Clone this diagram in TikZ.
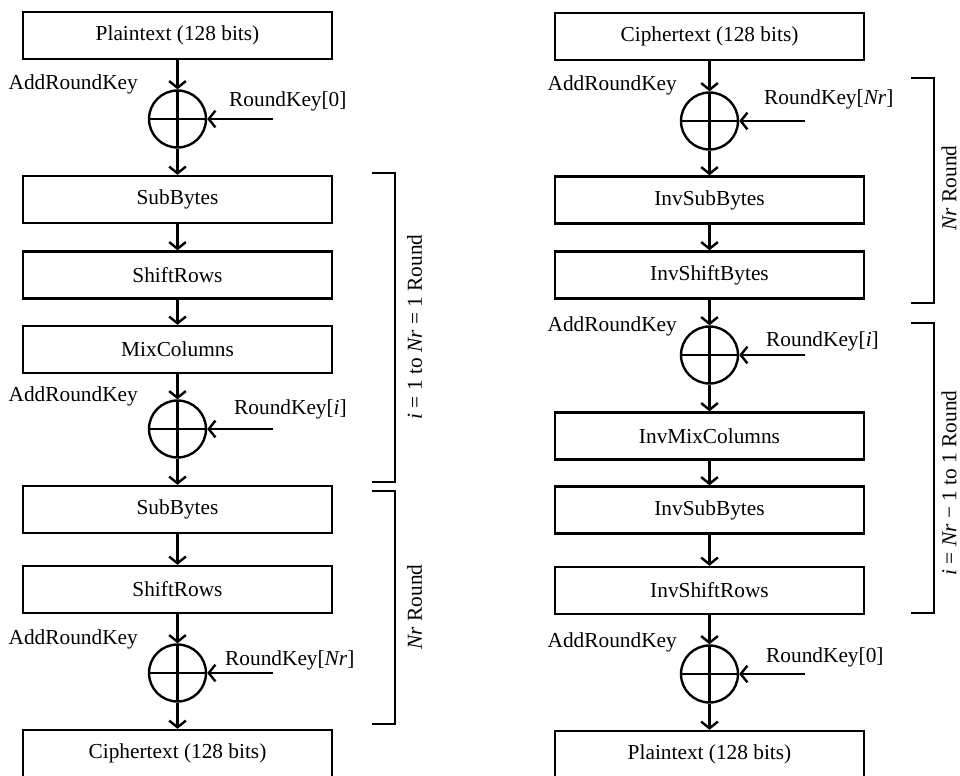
\documentclass[tikz,border=0pt]{standalone}
\usepackage{fontspec}
\setmainfont{Liberation Serif}
\usetikzlibrary{arrows.meta}
\begin{document}
\begin{tikzpicture}[x=0.75pt,y=-0.75pt, line width=1.8pt,
  box/.style={draw, minimum width=231.75pt, minimum height=35.25pt, inner sep=0pt, font=\fontsize{16}{19}\selectfont},
  xorc/.style={draw, circle, minimum size=42.75pt, inner sep=0pt,
    path picture={\draw[line width=1.8pt] (path picture bounding box.north) -- (path picture bounding box.south)
      (path picture bounding box.west) -- (path picture bounding box.east);}},
  arr/.style={-{Straight Barb[length=5pt,width=12.5pt]}},
  lbl/.style={font=\fontsize{16}{19}\selectfont, inner sep=0pt},
  rlbl/.style={lbl, rotate=90}]
\useasboundingbox (0,0) rectangle (960,775);

% ---------- left column (encryption) ----------
\node[box] (pt1) at (177.5,35.5) {Plaintext (128 bits)};
\node[xorc] (x1) at (177.5,119) {};
\node[box] (sb1) at (177.5,199.5) {SubBytes};
\node[box] (sr1) at (177.5,275) {ShiftRows};
\node[box] (mc1) at (177.5,349.5) {MixColumns};
\node[xorc] (x2) at (177.5,429) {};
\node[box] (sb2) at (177.5,509.5) {SubBytes};
\node[box] (sr2) at (177.5,589.5) {ShiftRows};
\node[xorc] (x3) at (177.5,673) {};
\node[box] (ct1) at (177.5,753.5) {Ciphertext (128 bits)};

\coordinate (k1) at (273,119);
\coordinate (k2) at (273,429);
\coordinate (k3) at (273,673);

\draw[arr] (pt1) -- (x1.north);
\draw[arr] (x1.south) -- (sb1.north);
\draw[arr] (sb1) -- (sr1);
\draw[arr] (sr1) -- (mc1);
\draw[arr] (mc1) -- (x2.north);
\draw[arr] (x2.south) -- (sb2.north);
\draw[arr] (sb2) -- (sr2);
\draw[arr] (sr2) -- (x3.north);
\draw[arr] (x3.south) -- (ct1.north);
\draw[arr] (k1) -- (x1.east);
\draw[arr] (k2) -- (x2.east);
\draw[arr] (k3) -- (x3.east);

\node[lbl, anchor=east] (a1) at (139,84) {AddRoundKey};
\node[lbl, anchor=west] (r1) at (228,101) {RoundKey[0]};
\node[lbl, anchor=east] (a2) at (139,396) {AddRoundKey};
\node[lbl, anchor=west] (r2) at (233,409) {RoundKey[\textit{i}]};
\node[lbl, anchor=east] (a3) at (139,639) {AddRoundKey};
\node[lbl, anchor=west] (r3) at (224,660) {RoundKey[\textit{Nr}]};

\draw (372,173) -- (395,173) -- (395,482) -- (372,482);
\draw (372,491) -- (395,491) -- (395,724) -- (372,724);
\node[rlbl] (b1) at (414.5,327) {\textit{i} = 1 to \textit{Nr} = 1 Round};
\node[rlbl] (b2) at (414.5,607) {\textit{Nr} Round};

% ---------- right column (decryption) ----------
\node[box] (ct2) at (709.5,36.5) {Ciphertext (128 bits)};
\node[xorc] (x4) at (709.5,121) {};
\node[box] (isb1) at (709.5,200) {InvSubBytes};
\node[box] (isr1) at (709.5,275) {InvShiftBytes};
\node[xorc] (x5) at (709.5,355) {};
\node[box] (imc) at (709.5,436) {InvMixColumns};
\node[box] (isb2) at (709.5,510) {InvSubBytes};
\node[box] (isr2) at (709.5,590.5) {InvShiftRows};
\node[xorc] (x6) at (709.5,674) {};
\node[box] (pt2) at (709.5,754.5) {Plaintext (128 bits)};

\coordinate (k4) at (805,121);
\coordinate (k5) at (805,355);
\coordinate (k6) at (805,674);

\draw[arr] (ct2) -- (x4.north);
\draw[arr] (x4.south) -- (isb1.north);
\draw[arr] (isb1) -- (isr1);
\draw[arr] (isr1) -- (x5.north);
\draw[arr] (x5.south) -- (imc.north);
\draw[arr] (imc) -- (isb2);
\draw[arr] (isb2) -- (isr2);
\draw[arr] (isr2) -- (x6.north);
\draw[arr] (x6.south) -- (pt2.north);
\draw[arr] (k4) -- (x4.east);
\draw[arr] (k5) -- (x5.east);
\draw[arr] (k6) -- (x6.east);

\node[lbl, anchor=east] (a4) at (678,85) {AddRoundKey};
\node[lbl, anchor=west] (r4) at (763,99) {RoundKey[\textit{Nr}]};
\node[lbl, anchor=east] (a5) at (678,326) {AddRoundKey};
\node[lbl, anchor=west] (r5) at (765,341) {RoundKey[\textit{i}]};
\node[lbl, anchor=east] (a6) at (678,642) {AddRoundKey};
\node[lbl, anchor=west] (r6) at (765,657) {RoundKey[0]};

\draw (911,78) -- (934,78) -- (934,303) -- (911,303);
\draw (911,323) -- (934,323) -- (934,613) -- (911,613);
\node[rlbl] (b3) at (949,188) {\textit{Nr} Round};
\node[rlbl] (b4) at (949,483) {\textit{i} = \textit{Nr} − 1 to 1 Round};
\end{tikzpicture}
\end{document}
